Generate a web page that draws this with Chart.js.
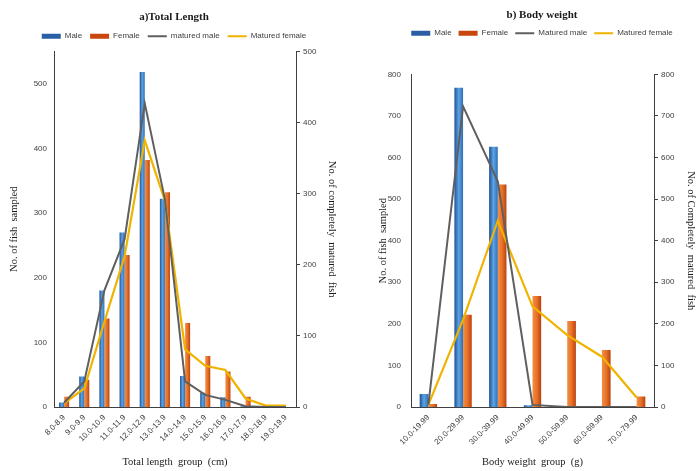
<!DOCTYPE html>
<html>
<head>
<meta charset="utf-8">
<script src="https://cdn.jsdelivr.net/npm/chart.js@4.4.0/dist/chart.umd.min.js"></script>
<style>
  html, body { margin: 0; padding: 0; background: #fff; }
  #wrap { position: relative; width: 696px; height: 471px; overflow: hidden; }
  .box { position: absolute; top: 0; height: 471px; }
  #lengthBox { left: 0; width: 348px; }
  #weightBox { left: 348px; width: 368px; }
</style>
</head>
<body>
<div id="wrap">
  <div class="box" id="lengthBox"><canvas id="lengthChart"></canvas></div>
  <div class="box" id="weightBox"><canvas id="weightChart"></canvas></div>
</div>
<script>
// a) Total length
const lengthGroups = ['8.0-8.9', '9.0-9.9', '10.0-10.9', '11.0-11.9', '12.0-12.9', '13.0-13.9',
  '14.0-14.9', '15.0-15.9', '16.0-16.9', '17.0-17.9', '18.0-18.9', '19.0-19.9']
const lengthMale = [7, 47, 180, 270, 518, 322, 48, 22, 15, 1, 0, 0]
const lengthFemale = [16, 42, 137, 235, 382, 332, 130, 79, 55, 16, 0, 0]
const lengthMaturedMale = [6, 36, 164, 236, 427, 292, 36, 17, 10, 1, 0, 0]
const lengthMaturedFemale = [5, 26, 120, 212, 375, 290, 81, 58, 52, 12, 2, 2]

// b) Body weight
const weightGroups = ['10.0-19.99', '20.0-29.99', '30.0-39.99', '40.0-49.99',
  '50.0-59.99', '60.0-69.99', '70.0-79.99']
const weightMale = [31, 768, 626, 4, 0, 0, 0]
const weightFemale = [7, 222, 535, 267, 207, 137, 25]
const weightMaturedMale = [5, 723, 543, 5, 0, 0, 0]
const weightMaturedFemale = [5, 210, 448, 242, 173, 121, 23]

const BLUE = ['#1f4f95', '#5da4e2', '#2f6db8']
const ORANGE = ['#f39040', '#e8712a', '#b9420e']
const GREY = '#5f5f5f'
const GOLD = '#efb300'

const tickFont = { family: 'Liberation Sans', size: 8 }
const axisTitleFont = { family: 'Liberation Serif', size: 10.5 }
const CAT_PCT = 0.5

// cylinder-like shading across each bar
function barGradient(stops) {
  return function(ctx) {
    const chart = ctx.chart
    const xScale = chart.scales.x
    if (ctx.type !== 'data' || !xScale || !xScale.width) return stops[1]
    const catWidth = xScale.width / chart.data.labels.length
    const pairWidth = catWidth * CAT_PCT
    const barWidth = pairWidth / 2
    const left = xScale.getPixelForValue(ctx.dataIndex) - pairWidth / 2 + ctx.datasetIndex * barWidth
    const g = chart.ctx.createLinearGradient(left, 0, left + barWidth, 0)
    g.addColorStop(0, stops[0])
    g.addColorStop(0.5, stops[1])
    g.addColorStop(1, stops[2])
    return g
  }
}

function legendLabels(chart) {
  return chart.data.datasets.map((ds, i) => {
    const isLine = ds.type === 'line'
    const color = isLine ? ds.borderColor : (i === 0 ? '#2a5fa6' : '#c9470f')
    return {
      text: ds.label,
      datasetIndex: i,
      fillStyle: color,
      strokeStyle: color,
      lineWidth: isLine ? 2 : 0,
      pointStyle: isLine ? 'line' : 'rect',
      fontColor: '#404040',
      hidden: false
    }
  })
}

function makeChart(canvasId, cfg) {
  const ctx = document.getElementById(canvasId).getContext('2d')
  return new Chart(ctx, {
    type: 'bar',
    data: {
      labels: cfg.labels,
      datasets: [{
        label: 'Male',
        data: cfg.male,
        backgroundColor: barGradient(BLUE),
        borderWidth: 0,
        order: 1,
        categoryPercentage: CAT_PCT,
        barPercentage: 1,
        yAxisID: 'y'
      }, {
        label: 'Female',
        data: cfg.female,
        backgroundColor: barGradient(ORANGE),
        borderWidth: 0,
        order: 1,
        categoryPercentage: CAT_PCT,
        barPercentage: 1,
        yAxisID: 'y'
      }, {
        type: 'line',
        label: cfg.maleLineLabel,
        data: cfg.maturedMale,
        borderColor: GREY,
        borderWidth: 2,
        pointRadius: 0,
        tension: 0,
        order: 0,
        yAxisID: 'y2'
      }, {
        type: 'line',
        label: 'Matured female',
        data: cfg.maturedFemale,
        borderColor: GOLD,
        borderWidth: 2.2,
        pointRadius: 0,
        tension: 0,
        order: 0,
        yAxisID: 'y2'
      }]
    },
    options: {
      responsive: true,
      maintainAspectRatio: false,
      animation: false,
      layout: { padding: { left: cfg.padLeft, right: 0, top: 0, bottom: 0 } },
      plugins: {
        title: {
          display: true,
          text: cfg.title,
          color: '#1a1a1a',
          font: { family: 'Liberation Serif', size: 11, weight: 'bold' },
          padding: { top: cfg.titleTop, bottom: 0 }
        },
        // empty subtitle used as a spacer between legend and plot
        subtitle: {
          display: true,
          text: '',
          weight: 500,
          font: { size: 1 },
          padding: { top: cfg.gapBelowLegend, bottom: 0 }
        },
        legend: {
          position: 'top',
          sort: (a, b) => a.datasetIndex - b.datasetIndex,
          labels: {
            generateLabels: legendLabels,
            usePointStyle: true,
            pointStyleWidth: 19,
            boxHeight: 5,
            padding: cfg.legendPad,
            color: '#404040',
            font: { family: 'Liberation Sans', size: 8 }
          }
        },
        tooltip: { enabled: false }
      },
      scales: {
        x: {
          offset: true,
          grid: { display: false, drawTicks: false },
          border: { display: true, color: '#404040', width: 1 },
          ticks: { autoSkip: false, maxRotation: 45, minRotation: 45, padding: 6, color: '#404040', font: tickFont },
          title: { display: true, text: cfg.xTitle, color: '#1a1a1a', font: axisTitleFont, padding: { top: 0, bottom: 2 } },
          afterFit: s => { s.height = 64 }
        },
        y: {
          position: 'left',
          min: 0,
          max: cfg.yMax,
          grid: { display: false, drawTicks: false },
          border: { display: true, color: '#404040', width: 1 },
          ticks: { stepSize: 100, includeBounds: false, padding: cfg.yTickPad, color: '#404040', font: tickFont },
          title: { display: true, text: cfg.yTitle, color: '#1a1a1a', font: axisTitleFont, padding: { top: cfg.yTitlePad, bottom: 0 } },
          afterFit: s => { s.width = cfg.yWidth }
        },
        y2: {
          position: 'right',
          min: 0,
          max: cfg.y2Max,
          grid: { display: true, drawOnChartArea: false, tickLength: 4, color: '#404040' },
          border: { display: true, color: '#404040', width: 1 },
          ticks: { stepSize: 100, padding: 3, color: '#404040', font: tickFont },
          title: { display: true, text: cfg.y2Title, color: '#1a1a1a', font: axisTitleFont, padding: { top: cfg.y2TitlePad, bottom: 0 } },
          afterFit: s => { s.width = cfg.y2Width }
        }
      }
    }
  })
}

makeChart('lengthChart', {
  labels: lengthGroups,
  male: lengthMale,
  female: lengthFemale,
  maturedMale: lengthMaturedMale,
  maturedFemale: lengthMaturedFemale,
  maleLineLabel: 'matured male',
  title: 'a)Total Length',
  titleTop: 11,
  legendPad: 8,
  gapBelowLegend: 0,
  padLeft: 0,
  xTitle: 'Total length  group  (cm)',
  yTitle: 'No. of fish  sampled',
  y2Title: 'No. of completely  matured  fish',
  yMax: 550,
  y2Max: 500,
  yWidth: 54,
  y2Width: 52,
  yTickPad: 7,
  yTitlePad: 8,
  y2TitlePad: 10
})

makeChart('weightChart', {
  labels: weightGroups,
  male: weightMale,
  female: weightFemale,
  maturedMale: weightMaturedMale,
  maturedFemale: weightMaturedFemale,
  maleLineLabel: 'Matured male',
  title: 'b) Body weight',
  titleTop: 9,
  legendPad: 7,
  gapBelowLegend: 26,
  padLeft: 20,
  xTitle: 'Body weight  group  (g)',
  yTitle: 'No. of fish  sampled',
  y2Title: 'No. of Completely  matured  fish',
  yMax: 800,
  y2Max: 800,
  yWidth: 43,
  y2Width: 62,
  yTickPad: 10,
  yTitlePad: 8.7,
  y2TitlePad: 18.7
})
</script>
</body>
</html>
